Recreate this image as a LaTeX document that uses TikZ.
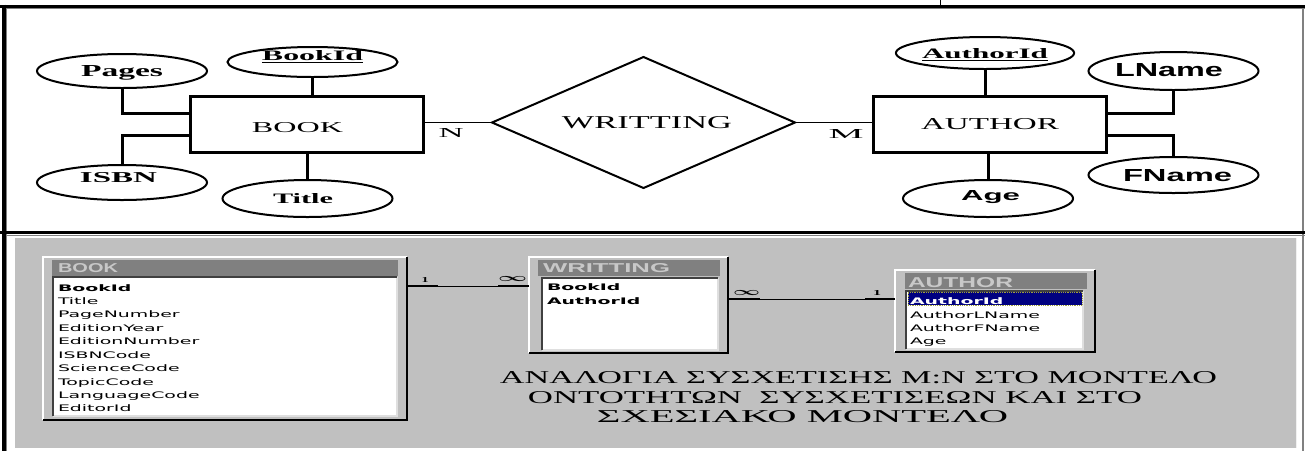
\documentclass[tikz,border=0pt]{standalone}
\usepackage{fontspec}
\usepackage{graphicx}
\setmainfont{Liberation Serif}
\setsansfont{Liberation Sans}
\newfontfamily\tblfont[FakeStretch=2.1]{DejaVu Sans}
\usetikzlibrary{shapes.geometric}
\definecolor{panelgray}{RGB}{192,192,192}
\definecolor{bargray}{RGB}{128,128,128}
\definecolor{bartext}{RGB}{200,200,200}
\definecolor{hlnavy}{RGB}{0,0,128}
\definecolor{edgegray}{RGB}{128,128,128}
\definecolor{litegray}{RGB}{223,223,223}
\definecolor{sunkgray}{RGB}{64,64,64}
\definecolor{focusdot}{RGB}{160,160,60}
\newcommand\rz[3]{\resizebox{#1pt}{#2pt}{#3}}
\newcommand\dx[2]{\makebox[0pt]{\hspace*{#1pt}\hspace*{#1pt}#2}}
\begin{document}
\begin{tikzpicture}[x=1pt,y=-1pt,
  every node/.style={inner sep=0pt, outer sep=0pt},
  attr/.style={ellipse, draw, line width=2pt, fill=white, minimum width=170pt},
  ent/.style={rectangle, draw, line width=3pt, fill=white, minimum width=233pt, minimum height=56pt},
  relship/.style={diamond, draw, line width=2pt, fill=white, aspect=2.3, minimum width=303pt, minimum height=131pt},
  tb/.style 2 args={text height=#1pt, text depth=#2pt},
  alink/.style={line width=3pt},
  rlink/.style={line width=1.5pt},
  lbl/.style={anchor=base},
  frameblack/.style={black, line width=3pt},
  framegray/.style={edgegray, line width=1pt},
  winbox/.style={rectangle, fill=panelgray},
  winhi/.style={white, line width=1.5pt},
  winsh/.style={black, line width=2.5pt},
  tbar/.style={rectangle, fill=bargray, minimum height=16pt, anchor=north west},
  ttext/.style={anchor=base, text=bartext},
  tlist/.style={rectangle, fill=white, anchor=north west},
  sunkdark/.style={sunkgray, line width=2pt},
  sunklite/.style={litegray, line width=1.5pt},
  item/.style={anchor=base west, font=\tblfont\fontsize{9}{11}\selectfont},
  itemb/.style={anchor=base west, font=\tblfont\bfseries\fontsize{9}{11}\selectfont},
  hlbar/.style={rectangle, fill=hlnavy, draw=focusdot, densely dotted, line width=0.8pt, anchor=north west},
  thinrel/.style={line width=1pt},
  thickrel/.style={line width=2.5pt},
  card/.style={anchor=base},
]
\useasboundingbox (0,0) rectangle (1305,451);
\fill[white] (0,0) rectangle (1305,451);

% ---------- outer frame ----------
\draw[frameblack] (0,6) -- (1305,6);
\draw[framegray] (6,8.5) -- (1305,8.5);
\draw[black, line width=1pt] (940,0) -- (940,6);
\draw[black, line width=4pt] (4,4.5) -- (4,451);
\draw[framegray] (6.5,9) -- (6.5,451);
\draw[edgegray, line width=1.5pt] (1303,8) -- (1303,451);
\draw[frameblack] (0,232.5) -- (1305,232.5);
\draw[framegray] (6,235) -- (1305,235);

% ---------- ER diagram ----------
\node[ent, tb={16}{0}] (book) at (306.5,124) {\dx{-9}{\rz{91}{10}{BOOK}}};
\node[attr, minimum height=34pt, tb={10}{0}] (pages) at (122,71) {\rz{82}{11}{\bfseries Pages}};
\node[attr, minimum height=30pt, tb={0}{4}] (bookid) at (312.5,62) {\rz{101}{10}{\bfseries\underline{BookId}}};
\node[attr, minimum height=35pt, tb={0}{1}] (isbn) at (122,182.5) {\dx{-3.5}{\rz{77}{10}{\bfseries ISBN}}};
\node[attr, minimum height=37pt, tb={9}{0}] (title) at (307.5,198.5) {\dx{-4.5}{\rz{60}{10}{\bfseries Title}}};
\node[relship, tb={11}{0}] (writ) at (643.5,122.5) {\dx{3.5}{\rz{170}{12}{WRITTING}}};
\node[ent, tb={10}{0}] (author) at (990,124) {\rz{138}{11}{AUTHOR}};
\node[attr, minimum height=32pt, tb={10}{0}] (authorid) at (985,53) {\rz{126}{10}{\bfseries\underline{AuthorId}}};
\node[attr, minimum height=38pt, tb={10}{0}] (lname) at (1173.5,71) {\dx{-4.5}{\rz{108}{13}{\sffamily\bfseries LName}}};
\node[attr, minimum height=36pt, tb={12}{0}] (fname) at (1173.5,175) {\dx{4}{\rz{109}{12}{\sffamily\bfseries FName}}};
\node[attr, minimum height=37pt, tb={3}{0}] (age) at (988,198.5) {\dx{2.5}{\rz{59}{10}{\sffamily\bfseries Age}}};
\node[lbl] (nlab) at (451,137) {\rz{25}{9}{N}};
\node[lbl] (mlab) at (846,138) {\rz{35}{9}{M}};

\draw[alink] (bookid.south) -- (bookid.south |- book.north);
\draw[alink] (title.north) -- (title.north |- book.south);
\draw[alink] (pages.south) |- ([yshift=11pt]book.west);
\draw[alink] (isbn.north) |- ([yshift=-11pt]book.west);
\draw[rlink] (writ.west) -- (writ.west -| book.east);
\draw[rlink] (writ.east) -- (writ.east -| author.west);
\draw[alink] (authorid.south) -- (authorid.south |- author.north);
\draw[alink] (age.north) -- (age.north |- author.south);
\draw[alink] (lname.south) |- ([yshift=11pt]author.east);
\draw[alink] (fname.north) |- ([yshift=-11pt]author.east);

% ---------- relational panel ----------
\fill[panelgray] (15,238) rectangle (1296,448);
\draw[white!88!gray, line width=1pt] (1296.5,238) -- (1296.5,448);

% BOOK table
\node[winbox, minimum width=364pt, minimum height=163pt] (tbook) at (225,338.5) {};
\draw[winhi] (tbook.south west) |- (tbook.north east);
\draw[winsh] (tbook.north east) |- (tbook.south west);
\node[tbar, minimum width=346pt] (tbookbar) at (52,260) {};
\node[ttext] (tbookttl) at (88,272) {\rz{60}{9}{\sffamily\bfseries BOOK}};
\node[tlist, minimum width=344pt, minimum height=139pt] (tbooklist) at (53,277) {};
\draw[sunklite] (tbooklist.north east) |- (tbooklist.south west);
\draw[sunkdark] (tbooklist.south west) |- (tbooklist.north east);
\node[itemb] (bk0) at (58,291) {BookId};
\foreach \t [count=\i] in {Title,PageNumber,EditionYear,EditionNumber,ISBNCode,ScienceCode,TopicCode,LanguageCode,EditorId}
  \node[item] (bk\i) at (58,{291+13.44*\i}) {\t};

% WRITTING table
\node[winbox, minimum width=199pt, minimum height=96pt] (twrit) at (628.5,305) {};
\draw[winhi] (twrit.south west) |- (twrit.north east);
\draw[winsh] (twrit.north east) |- (twrit.south west);
\node[tbar, minimum width=182pt] (twritbar) at (538,260) {};
\node[ttext] (twritttl) at (606.5,272) {\rz{127}{9}{\sffamily\bfseries WRITTING}};
\node[tlist, minimum width=176pt, minimum height=72pt] (twritlist) at (542,278) {};
\draw[sunklite] (twritlist.north east) |- (twritlist.south west);
\draw[sunkdark] (twritlist.south west) |- (twritlist.north east);
\node[itemb] (wr0) at (547,290) {BookId};
\node[itemb] (wr1) at (547,304) {AuthorId};

% AUTHOR table
\node[winbox, minimum width=200pt, minimum height=82pt] (tauth) at (995,311) {};
\draw[winhi] (tauth.south west) |- (tauth.north east);
\draw[winsh] (tauth.north east) |- (tauth.south west);
\node[tbar, minimum width=182pt] (tauthbar) at (905,273) {};
\node[ttext] (tauthttl) at (960.5,287) {\rz{105}{10}{\sffamily\bfseries AUTHOR}};
\node[tlist, minimum width=177pt, minimum height=58pt] (tauthlist) at (906,291) {};
\draw[sunklite] (tauthlist.north east) |- (tauthlist.south west);
\draw[sunkdark] (tauthlist.south west) |- (tauthlist.north east);
\node[hlbar, minimum width=174pt, minimum height=13pt] (hl) at (908,292) {};
\node[itemb, text=white] (au0) at (910,304) {AuthorId};
\node[item] (au1) at (910,318) {AuthorLName};
\node[item] (au2) at (910,331) {AuthorFName};
\node[item] (au3) at (910,344) {Age};

% relationship lines
\draw[thinrel] (tbook.east |- 0,286) -- (twrit.west |- 0,286);
\draw[thickrel] (tbook.east |- 0,286) -- ++(31,0);
\draw[thickrel] (twrit.west |- 0,286) -- ++(-31,0);
\node[card] (c1) at (425,282) {\rz{7}{5}{\bfseries 1}};
\node[card] (c2) at (512.5,281) {\rz{29}{5}{\boldmath$\infty$}};
\draw[thinrel] (twrit.east |- 0,299) -- (tauth.west |- 0,299);
\draw[thickrel] (twrit.east |- 0,299) -- ++(32,0);
\draw[thickrel] (tauth.west |- 0,299) -- ++(-30,0);
\node[card] (c3) at (746.5,295) {\rz{27}{5}{\boldmath$\infty$}};
\node[card] (c4) at (877,295) {\rz{8}{5}{\bfseries 1}};

% caption
\node[lbl] (g1) at (858.5,383) {\rz{717}{12}{ΑΝΑΛΟΓΙΑ ΣΥΣΧΕΤΙΣΗΣ Μ:Ν ΣΤΟ ΜΟΝΤΕΛΟ}};
\node[lbl] (g2) at (835,403) {\rz{614}{12}{ΟΝΤΟΤΗΤΩΝ\ \ ΣΥΣΧΕΤΙΣΕΩΝ ΚΑΙ ΣΤΟ}};
\node[lbl] (g3) at (802.5,422) {\rz{411}{12}{ΣΧΕΣΙΑΚΟ ΜΟΝΤΕΛΟ}};
\end{tikzpicture}
\end{document}
